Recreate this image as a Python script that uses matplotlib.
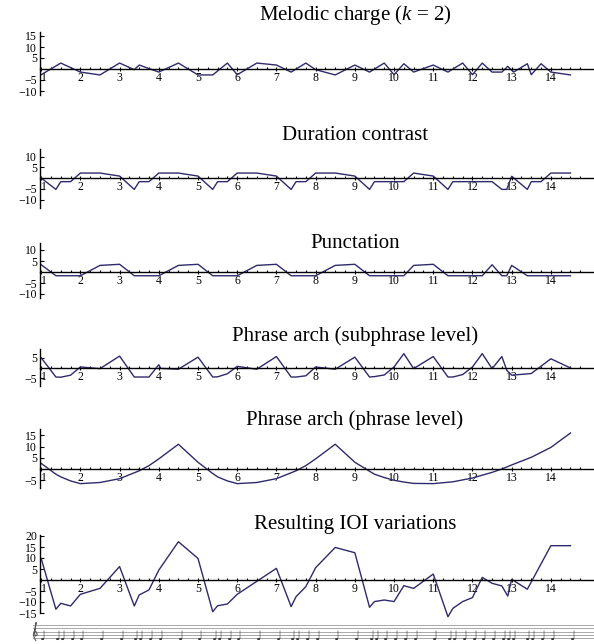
import matplotlib
matplotlib.use("Agg")
import matplotlib.pyplot as plt

plt.rcParams['font.family'] = ['Liberation Serif', 'DejaVu Serif']
plt.rcParams['mathtext.fontset'] = 'custom'
plt.rcParams['mathtext.it'] = 'Liberation Serif:italic'
plt.rcParams['mathtext.rm'] = 'Liberation Serif'

LINE_COLOR = '#2f2a6b'

# ---------------- data ----------------
titles = ["Melodic charge ($k$ = 2)", "Duration contrast", "Punctation",
          "Phrase arch (subphrase level)", "Phrase arch (phrase level)",
          "Resulting IOI variations"]

melodic_x = [1, 1.5, 2, 2.5, 3, 3.375, 3.5, 4, 4.5, 5, 5.375, 5.75, 6, 6.5, 7, 7.375,
             7.75, 8, 8.5, 9, 9.375, 9.75, 10, 10.25, 10.5, 11, 11.375, 11.75, 12,
             12.25, 12.5, 12.75, 12.9, 13.05, 13.4, 13.5, 13.75, 14, 14.5]
melodic_y = [-2.6, 2.7, -1.4, -2.7, 2.7, -0.3, 1.8, -1.4, 2.7, -2.7, -2.7, 2.7, -2.6,
             2.7, 1.8, -1.4, 2.7, -0.3, -2.7, 1.8, -1.4, 2.7, -2.6, 2.4, -1.4, 1.8,
             -1.4, 2.7, -2.6, 2.7, -1.4, -1.4, 1.2, -1.4, 2.4, -2.6, 2.4, -1.4, -2.7]

duration_x = [1, 1.375, 1.5, 1.75, 2, 2.5, 3, 3.375, 3.5, 3.75, 4, 4.5, 5, 5.375, 5.5,
              5.75, 6, 6.5, 7, 7.375, 7.5, 7.75, 8, 8.5, 9, 9.375, 9.5, 10.25, 10.5,
              11, 11.375, 11.5, 12.5, 12.75, 12.875, 13, 13.4, 13.5, 13.75, 14, 14.5]
duration_y = [0, -5.3, -1.7, -1.7, 2.3, 2.3, 0.9, -5.3, -1.7, -1.7, 2.3, 2.3, 0.9, -5.3,
              -1.7, -1.7, 2.3, 2.3, 0.9, -5.3, -1.7, -1.7, 2.3, 2.3, 0.9, -5.3, -1.7,
              -1.7, 2.3, 0.9, -5.3, -1.7, -1.7, -5.3, -5.3, 0.8, -5.3, -1.7, -1.7,
              2.3, 2.3]

punct_x = [1, 1.375, 2, 2.5, 3, 3.375, 4, 4.5, 5, 5.375, 6, 6.5, 7, 7.375, 8, 8.5, 9,
           9.375, 10.25, 10.5, 11, 11.375, 12.25, 12.5, 12.75, 12.875, 13, 13.4, 14.5]
punct_y = [3.3, -1.7, -1.7, 3.0, 3.5, -1.7, -1.7, 3.0, 3.5, -1.7, -1.7, 3.0, 3.5, -1.7,
           -1.7, 3.0, 3.5, -1.7, -1.7, 3.0, 3.5, -1.7, -1.7, 3.3, -1.7, -1.7, 3.0,
           -1.7, -1.7]

sub_x = [1, 1.2, 1.375, 1.5, 1.75, 2, 2.5, 3, 3.375, 3.5, 3.75, 4, 4.05, 4.5, 5, 5.375,
         5.5, 5.75, 6, 6.5, 7, 7.375, 7.5, 7.75, 8, 8.5, 9, 9.375, 9.5, 9.75, 10,
         10.25, 10.5, 11, 11.375, 11.5, 11.75, 12, 12.25, 12.5, 12.75, 12.875, 13,
         13.5, 14, 14.5]
sub_y = [5.0, 0, -4.4, -4.5, -3.5, 0.5, -0.3, 5.8, -4.4, -4.4, -4.4, 1.6, -0.2, -0.6,
         5.3, -4.4, -4.3, -2.8, 0.8, -0.6, 5.6, -4.4, -4.4, -3.8, 0.5, -0.6, 5.3,
         -4.4, -4.2, -3.4, 0.5, 7.0, -0.3, 5.6, -4.4, -4.4, -3.2, 0.5, 7.0, -0.3, 5.6,
         -1.1, -3.5, -2.7, 4.5, 0]

phrase_x = [1, 1.375, 1.5, 1.75, 2, 2.5, 3, 3.5, 3.75, 4, 4.5, 5, 5.375, 5.5, 5.75, 6,
            6.5, 7, 7.5, 7.75, 8, 8.5, 9, 9.375, 9.5, 9.75, 10, 10.25, 10.5, 11, 11.5,
            12, 12.5, 12.75, 13, 13.5, 14, 14.5]
phrase_y = [2.5, -2.3, -3.5, -5.3, -6.5, -6.0, -4.3, -0.8, 1.5, 4.5, 11.0, 3.0, -2.0,
            -3.5, -5.3, -6.5, -6.0, -4.3, -0.8, 1.5, 4.5, 11.0, 3.0, -1.0, -2.3, -3.8,
            -5.0, -5.8, -6.4, -6.5, -5.7, -4.0, -1.5, 0.0, 1.8, 5.2, 9.6, 16.0]

ioi_x = [1, 1.375, 1.5, 1.75, 2, 2.5, 3, 3.375, 3.5, 3.75, 4, 4.5, 5, 5.375, 5.5, 5.75,
         6, 7, 7.375, 7.5, 7.75, 8, 8.5, 9, 9.375, 9.5, 9.75, 10, 10.25, 10.5, 11,
         11.375, 11.5, 11.75, 12, 12.25, 12.5, 12.75, 12.9, 13, 13.4, 14, 14.5]
ioi_y = [9.8, -13.3, -10.6, -11.8, -6.5, -3.8, 6.1, -11.8, -6.8, -4.5, 4.5, 17.4, 9.8,
         -14.4, -11.7, -10.9, -6.5, 5.3, -12.1, -7.6, -3.0, 5.6, 14.8, 12.4, -12.4,
         -9.8, -9.1, -9.8, -2.6, -3.8, 2.7, -16.7, -12.9, -9.8, -8.0, 1.2, -1.5,
         -2.7, -7.3, 0.3, -4.2, 15.6, 15.6]

x_ticks = list(range(1, 15))

note_onsets = [1, 1.375, 1.5, 1.75, 2, 2.5, 3, 3.375, 3.5, 3.75, 4, 4.5, 5, 5.375, 5.5,
               5.75, 6, 6.5, 7, 7.375, 7.5, 7.75, 8, 8.5, 9, 9.375, 9.5, 9.75, 10,
               10.25, 10.5, 11, 11.375, 11.5, 11.75, 12, 12.25, 12.5, 12.75, 12.875,
               13, 13.375, 13.5, 13.75, 14, 14.5]

series = [(melodic_x, melodic_y), (duration_x, duration_y), (punct_x, punct_y),
          (sub_x, sub_y), (phrase_x, phrase_y), (ioi_x, ioi_y)]

# ---------------- layout (pixels) ----------------
W, H = 594, 644
layout = [
    # zero_px, px_per_unit, ylim, yticks, title_y
    (69, 2.2, (-12, 17), [-10, -5, 5, 10, 15], 15),
    (178, 2.15, (-14, 13.5), [-10, -5, 5, 10], 135),
    (272, 2.2, (-12, 13), [-10, -5, 5, 10], 244),
    (368, 2.05, (-9, 9.5), [-5, 5], 336),
    (469, 2.25, (-8.5, 18), [-5, 5, 10, 15], 420),
    (580, 2.2, (-15, 20.5), [-15, -10, -5, 5, 10, 15, 20], 525),
]
XLIM = (0.97, 15.1)
LEFT_PX = 40
RIGHT_PX = 594

fig = plt.figure(figsize=(W / 100, H / 100), dpi=100)

for (xs, ys), title, (zero, ppu, ylim, yt, ty) in zip(series, titles, layout):
    top_px = zero - ylim[1] * ppu
    bot_px = zero - ylim[0] * ppu
    ax = fig.add_axes([LEFT_PX / W, 1 - bot_px / H, (RIGHT_PX - LEFT_PX) / W,
                       (bot_px - top_px) / H])
    ax.set_facecolor('none')
    ax.plot(xs, ys, color=LINE_COLOR, lw=1.0, clip_on=False)
    ax.set_xlim(*XLIM)
    ax.set_ylim(*ylim)
    for s in ('top', 'right'):
        ax.spines[s].set_visible(False)
    ax.spines['bottom'].set_position(('data', 0))
    ax.spines['bottom'].set_linewidth(1.0)
    ax.spines['left'].set_linewidth(1.0)
    ax.set_xticks(x_ticks)
    ax.set_xticklabels([str(t) for t in x_ticks])
    ax.set_xticks([t + q for t in range(1, 15) for q in (0.25, 0.5, 0.75)
                   if t + q < 15], minor=True)
    ax.set_yticks(yt)
    ax.set_yticklabels(['\u2212' + str(-v) if v < 0 else str(v) for v in yt])
    ax.tick_params(axis='x', which='major', direction='inout', length=3, width=0.8,
                   labelsize=8.5, pad=1)
    ax.tick_params(axis='x', which='minor', direction='in', length=1.5, width=0.8)
    ax.tick_params(axis='y', which='major', direction='in', length=3, width=0.8,
                   labelsize=8.5, pad=2)
    # the label "1" sits just right of the vertical axis, as in the reference
    ax.get_xticklabels()[0].set_horizontalalignment('left')
    fig.text(355 / W, 1 - ty / H, title, ha='center', va='center', fontsize=15)

# ---------------- music staff ----------------
sax = fig.add_axes([LEFT_PX / W, 0, (RIGHT_PX - LEFT_PX) / W, 24 / H])
sax.set_xlim(*XLIM)
sax.set_ylim(0, 24)
sax.axis('off')
staff_y = [6 + i * 3.2 for i in range(5)]
for yy in staff_y:
    sax.plot([0.78, 15.1], [yy, yy], color='#9a9a9a', lw=0.6, clip_on=False)
# treble clef drawn as a simple shape (no installed font has the glyph)
clef_x = [0.86, 0.84, 0.80, 0.82, 0.88, 0.90, 0.85, 0.83, 0.85, 0.87, 0.86, 0.84]
clef_y = [3.5, 5.0, 9.0, 12.5, 12.0, 9.0, 8.0, 10.5, 16.0, 21.5, 19.0, 14.0]
sax.plot(clef_x, clef_y, color='#555555', lw=0.8, clip_on=False)
for xo in note_onsets:
    sax.text(xo + 0.05, 8, '\u2669', fontsize=9, ha='center', va='center',
             color='#333333', family=['DejaVu Sans'])

fig.savefig('out.png', dpi=100)
